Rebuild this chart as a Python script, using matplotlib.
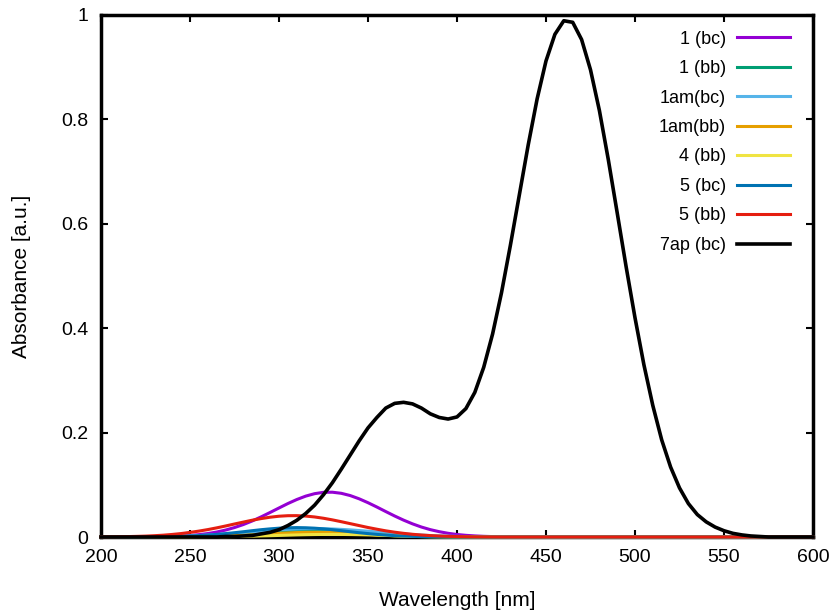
import numpy as np
import matplotlib
matplotlib.use("Agg")
import matplotlib.pyplot as plt
from matplotlib.ticker import FormatStrFormatter, MultipleLocator

plt.rcParams["font.family"] = ["Liberation Sans", "DejaVu Sans"]

# wavelength grid, 200..600 nm every 5 nm
wavelength = np.arange(200, 601, 5)

# absorbance of each species on that grid
abs_1_bc = [
    0, 0, 0, 0, 0.0001, 0.0002, 0.0004, 0.0007, 0.0012, 0.0019,
    0.0029, 0.0045, 0.0066, 0.0095, 0.0133, 0.0181, 0.0239, 0.0308, 0.0386, 0.0470,
    0.0556, 0.0641, 0.0718, 0.0783, 0.0830, 0.0856, 0.0858, 0.0837, 0.0794, 0.0732,
    0.0657, 0.0574, 0.0487, 0.0402, 0.0323, 0.0252, 0.0191, 0.0141, 0.0102, 0.0071,
    0.0048, 0.0032, 0.0021, 0.0013, 0.0008, 0.0005, 0.0003, 0.0002, 0.0001, 0,
    0, 0, 0, 0, 0, 0, 0, 0, 0, 0,
    0, 0, 0, 0, 0, 0, 0, 0, 0, 0,
    0, 0, 0, 0, 0, 0, 0, 0, 0, 0,
    0]
abs_1_bb = [
    0, 0, 0, 0, 0, 0, 0.0001, 0.0002, 0.0003, 0.0005,
    0.0008, 0.0012, 0.0017, 0.0024, 0.0033, 0.0043, 0.0055, 0.0068, 0.0081, 0.0093,
    0.0104, 0.0113, 0.0118, 0.0120, 0.0118, 0.0113, 0.0104, 0.0093, 0.0081, 0.0068,
    0.0055, 0.0043, 0.0033, 0.0024, 0.0017, 0.0012, 0.0008, 0.0005, 0.0003, 0.0002,
    0.0001, 0, 0, 0, 0, 0, 0, 0, 0, 0,
    0, 0, 0, 0, 0, 0, 0, 0, 0, 0,
    0, 0, 0, 0, 0, 0, 0, 0, 0, 0,
    0, 0, 0, 0, 0, 0, 0, 0, 0, 0,
    0]
abs_1am_bc = [
    0, 0.0001, 0.0001, 0.0002, 0.0003, 0.0004, 0.0006, 0.0008, 0.0012, 0.0016,
    0.0022, 0.0028, 0.0037, 0.0047, 0.0058, 0.0070, 0.0083, 0.0097, 0.0111, 0.0124,
    0.0136, 0.0146, 0.0154, 0.0158, 0.0160, 0.0158, 0.0154, 0.0146, 0.0136, 0.0124,
    0.0111, 0.0097, 0.0083, 0.0070, 0.0058, 0.0047, 0.0037, 0.0028, 0.0022, 0.0016,
    0.0012, 0.0008, 0.0006, 0.0004, 0.0003, 0.0002, 0, 0, 0, 0,
    0, 0, 0, 0, 0, 0, 0, 0, 0, 0,
    0, 0, 0, 0, 0, 0, 0, 0, 0, 0,
    0, 0, 0, 0, 0, 0, 0, 0, 0, 0,
    0]
abs_1am_bb = [
    0, 0, 0, 0, 0, 0, 0, 0, 0.0002, 0.0002,
    0.0004, 0.0006, 0.0009, 0.0013, 0.0018, 0.0025, 0.0032, 0.0041, 0.0051, 0.0060,
    0.0070, 0.0078, 0.0085, 0.0089, 0.0090, 0.0089, 0.0085, 0.0078, 0.0070, 0.0060,
    0.0051, 0.0041, 0.0032, 0.0025, 0.0018, 0.0013, 0.0009, 0.0006, 0.0004, 0.0002,
    0.0002, 0.0001, 0, 0, 0, 0, 0, 0, 0, 0,
    0, 0, 0, 0, 0, 0, 0, 0, 0, 0,
    0, 0, 0, 0, 0, 0, 0, 0, 0, 0,
    0, 0, 0, 0, 0, 0, 0, 0, 0, 0,
    0]
abs_4_bb = [
    0, 0, 0, 0, 0, 0, 0, 0, 0.0001, 0.0001,
    0.0001, 0.0002, 0.0003, 0.0005, 0.0007, 0.0009, 0.0012, 0.0016, 0.0021, 0.0025,
    0.0030, 0.0035, 0.0040, 0.0044, 0.0047, 0.0049, 0.0050, 0.0049, 0.0047, 0.0044,
    0.0040, 0.0035, 0.0030, 0.0025, 0.0021, 0.0016, 0.0012, 0.0009, 0.0007, 0.0005,
    0.0003, 0.0002, 0.0001, 0.0001, 0.0001, 0, 0, 0, 0, 0,
    0, 0, 0, 0, 0, 0, 0, 0, 0, 0,
    0, 0, 0, 0, 0, 0, 0, 0, 0, 0,
    0, 0, 0, 0, 0, 0, 0, 0, 0, 0,
    0]
abs_5_bc = [
    0, 0, 0, 0, 0.0001, 0.0002, 0.0003, 0.0005, 0.0008, 0.0012,
    0.0018, 0.0026, 0.0037, 0.0050, 0.0065, 0.0082, 0.0101, 0.0121, 0.0140, 0.0156,
    0.0169, 0.0177, 0.0180, 0.0177, 0.0169, 0.0156, 0.0140, 0.0121, 0.0101, 0.0082,
    0.0065, 0.0050, 0.0037, 0.0026, 0.0018, 0.0012, 0.0008, 0.0005, 0.0003, 0.0002,
    0.0001, 0, 0, 0, 0, 0, 0, 0, 0, 0,
    0, 0, 0, 0, 0, 0, 0, 0, 0, 0,
    0, 0, 0, 0, 0, 0, 0, 0, 0, 0,
    0, 0, 0, 0, 0, 0, 0, 0, 0, 0,
    0]
abs_5_bb = [
    0.0002, 0.0003, 0.0005, 0.0008, 0.0012, 0.0017, 0.0025, 0.0035, 0.0049, 0.0066,
    0.0088, 0.0113, 0.0142, 0.0175, 0.0211, 0.0249, 0.0286, 0.0322, 0.0353, 0.0379,
    0.0398, 0.0408, 0.0409, 0.0401, 0.0384, 0.0359, 0.0328, 0.0293, 0.0256, 0.0219,
    0.0182, 0.0149, 0.0118, 0.0092, 0.0070, 0.0052, 0.0038, 0.0027, 0.0019, 0.0013,
    0.0008, 0.0005, 0.0003, 0.0002, 0.0001, 0, 0, 0, 0, 0,
    0, 0, 0, 0, 0, 0, 0, 0, 0, 0,
    0, 0, 0, 0, 0, 0, 0, 0, 0, 0,
    0, 0, 0, 0, 0, 0, 0, 0, 0, 0,
    0]
abs_7ap_bc = [
    0, 0, 0, 0, 0, 0, 0, 0, 0, 0,
    0, 0, 0, 0, 0.001, 0.001, 0.002, 0.003, 0.006, 0.009,
    0.014, 0.022, 0.032, 0.045, 0.061, 0.081, 0.104, 0.130, 0.157, 0.184,
    0.209, 0.229, 0.247, 0.256, 0.258, 0.255, 0.247, 0.236, 0.229, 0.226,
    0.230, 0.246, 0.277, 0.325, 0.389, 0.468, 0.559, 0.655, 0.751, 0.839,
    0.912, 0.963, 0.989, 0.986, 0.953, 0.895, 0.817, 0.723, 0.621, 0.518,
    0.420, 0.330, 0.252, 0.186, 0.134, 0.094, 0.064, 0.043, 0.029, 0.019,
    0.012, 0.007, 0.004, 0.002, 0.001, 0, 0, 0, 0, 0,
    0]

labels = ["1 (bc)", "1 (bb)", "1am(bc)", "1am(bb)", "4 (bb)", "5 (bc)", "5 (bb)", "7ap (bc)"]
series = [abs_1_bc, abs_1_bb, abs_1am_bc, abs_1am_bb, abs_4_bb, abs_5_bc, abs_5_bb, abs_7ap_bc]
colors = ["#9400d3", "#009e73", "#56b4e9", "#e69f00", "#f0e442", "#0072b2", "#e51e10", "#000000"]

fig = plt.figure(figsize=(8.37, 6.12), dpi=100)
ax = fig.add_axes([101 / 837, 75 / 612, 712 / 837, 522 / 612])

for y, lab, c in zip(series, labels, colors):
    lw = 2.6 if c == "#000000" else 2.2
    ax.plot(wavelength, y, color=c, lw=lw, label=lab, clip_on=False, zorder=3,
            solid_joinstyle="round")

ax.set_xlim(200, 600)
ax.set_ylim(0, 1)
ax.xaxis.set_major_locator(MultipleLocator(50))
ax.yaxis.set_major_locator(MultipleLocator(0.2))
ax.yaxis.set_major_formatter(FormatStrFormatter("%g"))

for sp in ax.spines.values():
    sp.set_linewidth(2.5)
ax.tick_params(direction="in", top=True, right=True, length=5, width=1.5,
               labelsize=14, colors="black")
ax.tick_params(axis="x", pad=9)
ax.tick_params(axis="y", pad=9)

ax.set_xlabel("Wavelength [nm]", fontsize=15, labelpad=18)
ax.set_ylabel("Absorbance [a.u.]", fontsize=15, labelpad=22)

ax.legend(loc="upper right", bbox_to_anchor=(0.9677, 0.970), frameon=False,
          markerfirst=False, fontsize=13, handlelength=2.95, handletextpad=0.6,
          labelspacing=0.69, borderpad=0, borderaxespad=0)

fig.savefig("out.png", dpi=100)
